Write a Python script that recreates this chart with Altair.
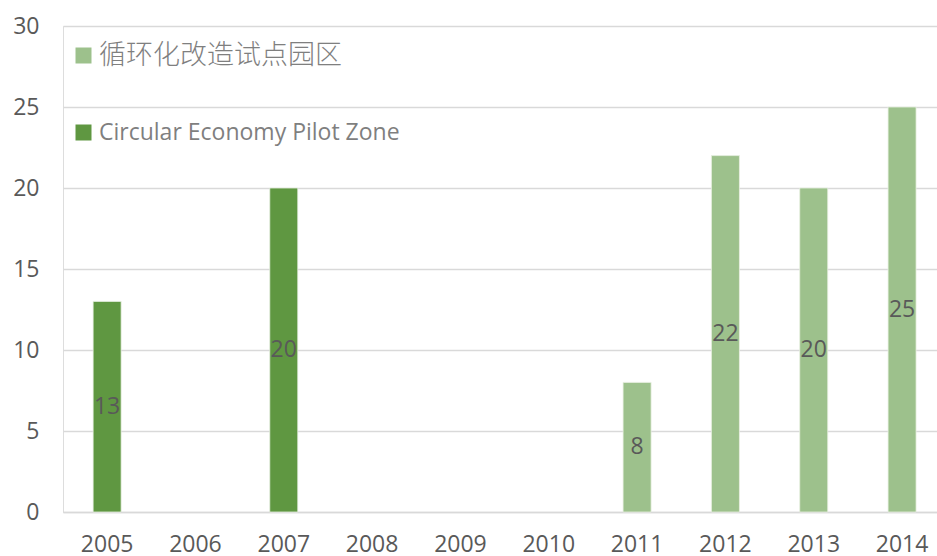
import altair as alt
import pandas as pd

years = ["2005", "2006", "2007", "2008", "2009", "2010", "2011", "2012", "2013", "2014"]
bar_years = ["2005", "2007", "2011", "2012", "2013", "2014"]
bar_values = [13, 20, 8, 22, 20, 25]
series_names = ["循环化改造试点园区", "Circular Economy Pilot Zone"]
bar_series = [series_names[1], series_names[1], series_names[0], series_names[0], series_names[0], series_names[0]]
colors = ["#9DC18C", "#5F9741"]

df = pd.DataFrame({"year": bar_years, "value": bar_values, "series": bar_series})
df["half"] = df["value"] / 2

FONT = "Open Sans, Noto Sans CJK SC, sans-serif"

x = alt.X("year:N", scale=alt.Scale(domain=years, paddingInner=0.683, paddingOuter=0.289, align=0.59),
          axis=alt.Axis(title=None, labelAngle=0, labelFontSize=23, labelColor="#595959", labelFont=FONT,
                        ticks=False, domain=True, domainColor="#D9D9D9", domainWidth=1.5, labelPadding=21, grid=False))

bars = alt.Chart(df).mark_bar(stroke="#E8F0E2", strokeWidth=0.8).encode(
    x=x,
    y=alt.Y("value:Q", scale=alt.Scale(domain=[0, 30], nice=False),
            axis=alt.Axis(title=None, values=[0, 5, 10, 15, 20, 25, 30], labelFontSize=23, labelColor="#595959",
                          labelFont=FONT, ticks=False, domain=False, gridColor="#D9D9D9", gridWidth=1.5,
                          labelPadding=24)),
    color=alt.Color("series:N", scale=alt.Scale(domain=series_names, range=colors),
                    legend=alt.Legend(title=None, orient="none", legendX=9, legendY=18, direction="vertical",
                                      symbolType="square", symbolSize=256, symbolStrokeWidth=0,
                                      labelFontSize=alt.ExprRef("datum.index == 0 ? 27 : 23"),
                                      labelFontWeight=alt.ExprRef("datum.index == 0 ? 300 : 400"),
                                      labelColor="#7F7F7F", labelFont=FONT, labelLimit=600,
                                      rowPadding=52, labelOffset=4, padding=0)),
)

labels = alt.Chart(df).mark_text(fontSize=23, color="#595959", font=FONT, baseline="middle").encode(
    x=alt.X("year:N", scale=alt.Scale(domain=years)),
    y=alt.Y("half:Q"),
    text=alt.Text("value:Q"),
)

chart = (bars + labels).properties(
    width=874, height=486,
    autosize=alt.AutoSizeParams(type="none"),
    padding={"left": 63, "top": 26, "right": 0, "bottom": 44},
).configure_view(stroke=None).configure(background="#FFFFFF")

chart.save("out.html", embed_options={"renderer": "svg", "actions": False})
